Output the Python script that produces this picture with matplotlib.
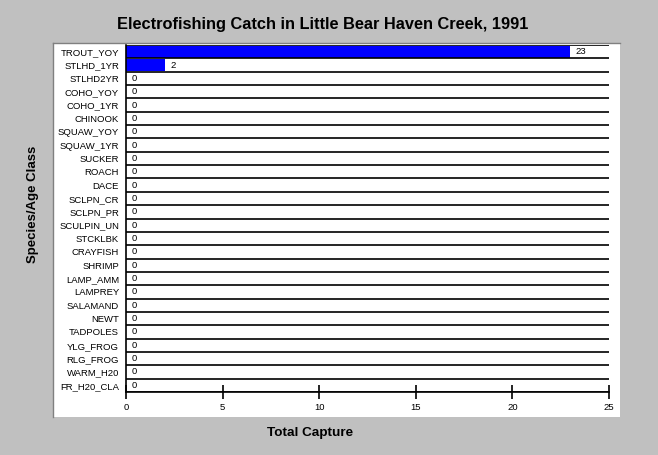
import matplotlib.pyplot as plt
from matplotlib.patches import Rectangle
from matplotlib.lines import Line2D

categories = ["TROUT_YOY", "STLHD_1YR", "STLHD2YR", "COHO_YOY", "COHO_1YR",
              "CHINOOK", "SQUAW_YOY", "SQUAW_1YR", "SUCKER", "ROACH", "DACE",
              "SCLPN_CR", "SCLPN_PR", "SCULPIN_UN", "STCKLBK", "CRAYFISH",
              "SHRIMP", "LAMP_AMM", "LAMPREY", "SALAMAND", "NEWT", "TADPOLES",
              "YLG_FROG", "RLG_FROG", "WARM_H20", "FR_H20_CLA"]
catch = [23, 2, 0, 0, 0, 0, 0, 0, 0, 0, 0, 0, 0, 0, 0, 0, 0, 0, 0, 0, 0, 0,
         0, 0, 0, 0]
x_ticks = [0, 5, 10, 15, 20, 25]

plt.rcParams['font.family'] = ['Liberation Sans', 'DejaVu Sans']

fig = plt.figure(figsize=(6.58, 4.55), dpi=100)
fig.patch.set_facecolor('#c0c0c0')

# white panel with sunken edge
W, H = 658, 455
fig.add_artist(Rectangle((53 / W, 1 - 417 / H), (620 - 53) / W, (417 - 43) / H,
                         transform=fig.transFigure, facecolor='white',
                         edgecolor='none', zorder=0))
fig.add_artist(Line2D([53 / W, 53 / W], [1 - 417 / H, 1 - 43 / H],
                      transform=fig.transFigure, color='#808080', lw=1.0))
fig.add_artist(Line2D([53 / W, 620 / W], [1 - 43 / H, 1 - 43 / H],
                      transform=fig.transFigure, color='#808080', lw=1.0))

ax = fig.add_axes([126 / W, 1 - 392 / H, (609 - 126) / W, (392 - 45) / H])
ax.set_facecolor('white')

y = list(range(len(categories)))
ax.barh(y, catch, height=0.88, color='#0000ff', zorder=2)
for i in range(len(categories) + 1):
    ax.axhline(i - 0.5, color='black', lw=1.2, zorder=3)
for i, v in enumerate(catch):
    ax.annotate(str(v), (v, i), xytext=(4, 0), textcoords='offset points',
                va='center', ha='left', fontsize=6.8, zorder=4)

ax.set_xlim(0, 25)
ax.set_ylim(len(categories) - 0.5, -0.5)
ax.set_yticks(y)
ax.set_yticklabels(categories, fontsize=6.8)
ax.set_xticks(x_ticks)
ax.set_xticklabels([str(t) for t in x_ticks], fontsize=6.8)
ax.tick_params(axis='y', length=0, pad=5)
ax.tick_params(axis='x', direction='inout', length=9.5, width=1.2, pad=3)

for s in ['top', 'right']:
    ax.spines[s].set_visible(False)
ax.spines['left'].set_linewidth(1.2)
ax.spines['bottom'].set_linewidth(1.2)

fig.text(322.5 / W, 1 - 24 / H, "Electrofishing Catch in Little Bear Haven Creek, 1991",
         ha='center', va='center', fontsize=11.8, fontweight='bold')
fig.text(33 / W, 1 - 204 / H, "Species/Age Class", rotation=90,
         ha='center', va='center', fontsize=9.5, fontweight='bold')
fig.text(310.5 / W, 1 - 433 / H, "Total Capture",
         ha='center', va='center', fontsize=9.7, fontweight='bold')

fig.savefig('out.png', dpi=100, facecolor=fig.get_facecolor())
